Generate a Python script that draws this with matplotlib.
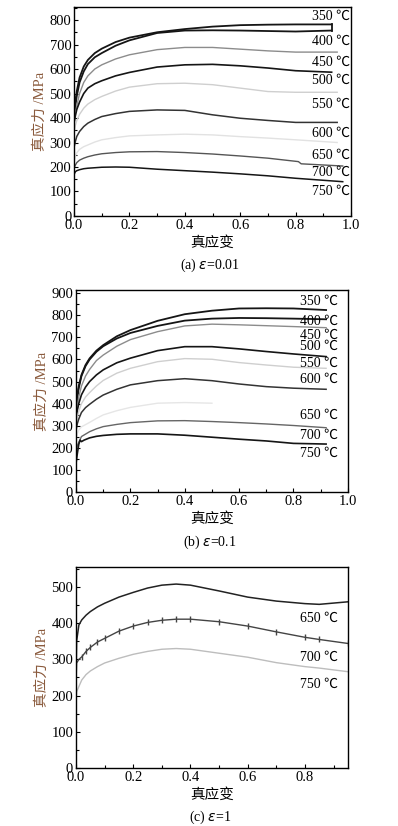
import numpy as np
import matplotlib.pyplot as plt
from matplotlib.ticker import MultipleLocator

plt.rcParams['font.family'] = ['Liberation Serif', 'Noto Sans CJK SC']
plt.rcParams['font.size'] = 10

# strain sample points
xs = [0.0, 0.005, 0.01, 0.02, 0.035, 0.05, 0.075, 0.1, 0.15, 0.2,
      0.3, 0.4, 0.5, 0.6, 0.7, 0.8, 0.93]
xs_a = xs[:-1] + [0.95]
xs_b = xs[:-1] + [0.92]

# (a) strain rate 0.01
a_350 = [420, 470, 510, 565, 610, 637, 665, 683, 710, 728, 750, 763, 773, 779, 781, 782, 782]
a_400 = [400, 450, 490, 545, 590, 620, 648, 665, 695, 717, 747, 757, 758, 757, 755, 753, 757]
a_450 = [380, 420, 450, 500, 545, 572, 600, 617, 641, 658, 679, 688, 688, 681, 674, 669, 669]
a_500 = [380, 410, 435, 465, 500, 522, 540, 552, 572, 586, 608, 617, 619, 613, 604, 593, 587]
a_550 = [340, 370, 390, 415, 440, 457, 475, 488, 510, 526, 540, 542, 536, 522, 508, 505, 505]
a_600 = [280, 305, 325, 345, 365, 379, 394, 406, 418, 427, 433, 431, 413, 399, 390, 382, 382]
a_650 = [220, 245, 258, 272, 283, 290, 302, 311, 320, 327, 331, 334, 331, 324, 318, 311, 300]
a_700_x = xs[:-2] + [0.81, 0.82, 0.97]
a_700 = [195, 208, 218, 228, 236, 242, 249, 254, 259, 262, 263, 259, 253, 245, 236, 222, 213, 204]
a_750_x = xs[:-1] + [0.97]
a_750 = [170, 181, 185, 189, 193, 195, 197, 199, 200, 199, 191, 185, 179, 172, 164, 154, 140]

# (b) strain rate 0.1
b_350 = [380, 440, 480, 530, 575, 605, 640, 665, 705, 733, 775, 805, 821, 831, 832, 831, 824]
b_400 = [370, 430, 470, 525, 570, 600, 635, 660, 695, 720, 752, 776, 785, 788, 787, 785, 782]
b_450 = [340, 390, 430, 480, 525, 555, 595, 620, 660, 690, 726, 752, 760, 757, 753, 749, 744]
b_500 = [330, 370, 400, 440, 475, 500, 530, 553, 585, 606, 640, 658, 658, 648, 636, 625, 613]
b_550 = [300, 340, 365, 400, 430, 450, 480, 505, 538, 560, 590, 604, 601, 586, 575, 565, 560]
b_600 = [280, 310, 330, 360, 382, 397, 420, 439, 465, 485, 504, 513, 504, 489, 477, 470, 465]
b_650_x = xs[:13]
b_650 = [240, 265, 280, 295, 305, 315, 333, 349, 368, 383, 402, 405, 402]
b_700 = [180, 210, 225, 251, 262, 273, 286, 296, 306, 314, 322, 323, 319, 314, 308, 301, 291]
b_750_x = [0.0, 0.005, 0.01, 0.015, 0.02, 0.03, 0.05, 0.075, 0.1, 0.15, 0.2,
           0.3, 0.4, 0.5, 0.6, 0.7, 0.8, 0.92]
b_750 = [130, 175, 215, 235, 228, 235, 245, 252, 256, 261, 263, 263, 257, 248, 239, 231, 220, 217]

# (c) strain rate 1
xs_c = [0.0, 0.002, 0.01, 0.02, 0.035, 0.05, 0.075, 0.1, 0.15, 0.2, 0.25,
        0.3, 0.35, 0.4, 0.5, 0.6, 0.7, 0.8, 0.85, 0.95]
c_650 = [250, 350, 395, 409, 422, 432, 445, 455, 472, 485, 497, 505, 508, 505, 489, 472, 461, 454, 452, 459]
c_700 = [230, 290, 300, 307, 322, 333, 348, 358, 378, 392, 402, 408, 411, 411, 404, 392, 376, 361, 355, 344]
c_750 = [180, 210, 225, 243, 258, 268, 280, 290, 303, 314, 322, 328, 330, 328, 317, 306, 291, 280, 276, 266]

temps_a = ['350', '400', '450', '500', '550', '600', '650', '700', '750']
label_y_a = [815, 713, 628, 552, 456, 338, 249, 177, 99]
label_y_b = [862, 772, 711, 658, 583, 512, 349, 258, 175]
temps_c = ['650', '700', '750']
label_y_c = [413, 307, 231]

black = '#151515'
gray = '#8c8c8c'
light = '#cfcfcf'
ylab_color = '#8a5a3c'

fig = plt.figure(figsize=(3.98, 8.26), dpi=100)
ax_a = fig.add_axes([0.186, 0.7385, 0.696, 0.253])
ax_b = fig.add_axes([0.191, 0.4044, 0.683, 0.2446])
ax_c = fig.add_axes([0.191, 0.0702, 0.683, 0.2433])


def style(ax, ymax, ystep, xmax, caption, cap_y):
    ax.set_xlim(0, xmax)
    ax.set_ylim(0, ymax)
    ax.xaxis.set_major_locator(MultipleLocator(0.2))
    ax.xaxis.set_minor_locator(MultipleLocator(0.1))
    ax.yaxis.set_major_locator(MultipleLocator(ystep))
    ax.yaxis.set_minor_locator(MultipleLocator(ystep / 2))
    ax.tick_params(which='both', direction='in', length=3, width=0.8,
                   pad=2, labelsize=10.5)
    ax.tick_params(which='minor', length=2)
    for s in ax.spines.values():
        s.set_linewidth(1.0)
    ax.set_ylabel('真应力 /MPa', color=ylab_color, fontsize=10.5, labelpad=2)
    ax.set_xlabel('真应变', fontsize=10.5, labelpad=3)
    fig.text(0.528, cap_y, caption, ha='center', va='center', fontsize=10)


# panel a
ax = ax_a
ax.plot(xs, a_350, color=black, lw=1.3)
ax.plot(xs, a_400, color=black, lw=1.3)
ax.plot([xs[-1], xs[-1]], [a_400[-1], a_350[-1]], color=black, lw=1.3)
ax.plot(xs_a, a_450, color=gray, lw=1.0)
ax.plot(xs, a_500, color=black, lw=1.2)
ax.plot(xs_a, a_550, color=light, lw=1.0)
ax.plot(xs_a, a_600, color='#333333', lw=1.1)
ax.plot(xs_a, a_650, color='#e2e2e2', lw=1.0)
ax.plot(a_700_x, a_700, color='#555555', lw=1.0)
ax.plot(a_750_x, a_750, color=black, lw=1.1)
for t, y in zip(temps_a, label_y_a):
    ax.text(0.997, y, t + ' ℃', ha='right', va='center', fontsize=10)
style(ax, 853, 100, 1.0, '(a) $\\varepsilon$=0.01', 1 - 265 / 826)

# panel b
ax = ax_b
ax.plot(xs_b, b_350, color=black, lw=1.3)
ax.plot(xs_b, b_400, color=black, lw=1.3)
ax.plot(xs_b, b_450, color=gray, lw=1.0)
ax.plot(xs_b, b_500, color=black, lw=1.2)
ax.plot(xs_b, b_550, color=light, lw=1.0)
ax.plot(xs_b, b_600, color='#333333', lw=1.1)
ax.plot(b_650_x, b_650, color='#e6e6e6', lw=1.0)
ax.plot(xs_b, b_700, color='#666666', lw=1.0)
ax.plot(b_750_x, b_750, color=black, lw=1.2)
for t, y in zip(temps_a, label_y_b):
    ax.text(0.963, y, t + ' ℃', ha='right', va='center', fontsize=10)
style(ax, 915, 100, 1.0, '(b) $\\varepsilon$=0.1', 1 - 542 / 826)

# panel c
ax = ax_c
ax.plot(xs_c, c_650, color='#222222', lw=1.1)
ax.plot(xs_c, c_700, color='#444444', lw=1.0, marker='|', markersize=4,
        markevery=slice(3, None))
ax.plot(xs_c, c_750, color='#bdbdbd', lw=1.0)
for t, y in zip(temps_c, label_y_c):
    ax.text(0.917, y, t + ' ℃', ha='right', va='center', fontsize=10)
style(ax, 555, 100, 0.95, '(c) $\\varepsilon$=1', 1 - 817 / 826)

fig.savefig('out.png', dpi=100)
